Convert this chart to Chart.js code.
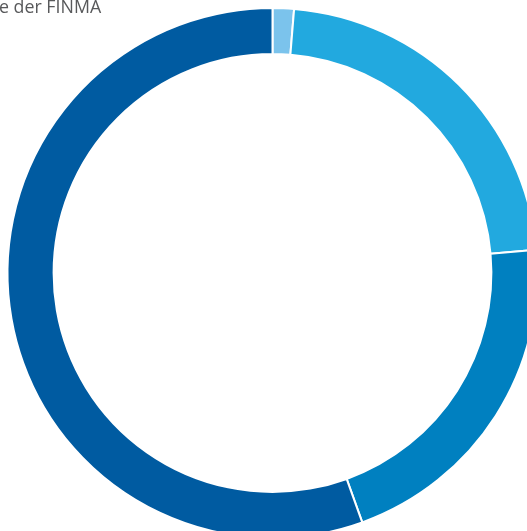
<!DOCTYPE html>
<html lang="de">
<head>
<meta charset="utf-8">
<script src="https://cdn.jsdelivr.net/npm/chart.js@4"></script>
<style>
    html, body { margin: 0; padding: 0; background: #fff; overflow: hidden; }
    .page { position: relative; width: 527px; height: 531px; overflow: hidden; }
    .chart-box { position: absolute; left: 0; top: 0; width: 545px; height: 546px; }
    .caption {
        position: absolute; left: -1px; top: -4px;
        font-family: "Open Sans", sans-serif; font-size: 17.8px; line-height: 20px;
        color: #58595b; white-space: nowrap;
    }
</style>
</head>
<body>
<div class="page">
    <div class="chart-box"><canvas id="shareChart"></canvas></div>
    <div class="caption">e der FINMA</div>
</div>
<script>
// Anteile in Prozent
const labels = ['Anteil 1', 'Anteil 2', 'Anteil 3', 'Anteil 4'];
const values = [1.3, 22.3, 20.9, 55.5];
const colors = ['#7bc3ec', '#22a9df', '#0080c0', '#005ba1'];

const ctx = document.getElementById('shareChart').getContext('2d');

new Chart(ctx, {
    type: 'doughnut',
    data: {
        labels: labels,
        datasets: [{
            data: values,
            backgroundColor: colors,
            borderColor: '#ffffff',
            borderWidth: 2,
            hoverOffset: 0
        }]
    },
    options: {
        responsive: true,
        maintainAspectRatio: false,
        animation: false,
        radius: 265,
        cutout: '82.6%',
        layout: { padding: 0 },
        plugins: {
            legend: { display: false },
            tooltip: { enabled: false }
        }
    }
});
</script>
</body>
</html>
